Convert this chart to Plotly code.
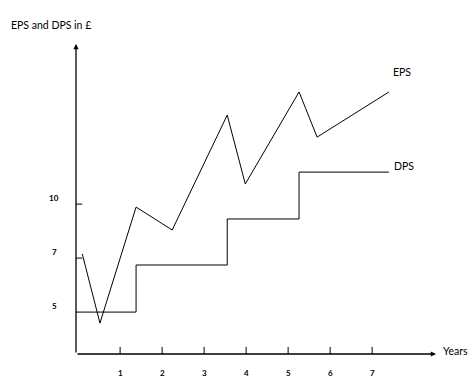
import plotly.graph_objects as go

# Years (schematic x positions) and values on the chart's vertical scale
eps_years = [0.1, 0.52, 1.38, 2.24, 3.55, 3.98, 5.26, 5.69, 7.4]
eps_values = [7.69, 4.49, 9.86, 8.80, 14.12, 10.93, 15.19, 13.10, 15.19]

dps_years = [0.1, 1.38, 1.38, 3.55, 3.55, 5.26, 5.26, 7.4]
dps_values = [5.0, 5.0, 7.18, 7.18, 9.31, 9.31, 11.48, 11.48]

x_ticks = [1, 2, 3, 4, 5, 6, 7]
x_labels = ["1", "2", "3", "4", "5", "6", "7"]
y_ticks = [5, 7.5, 10]
y_labels = ["5", "7", "10"]

X0, X1 = -0.05, 8.52
Y0, Y1 = 3.06, 17.41
FONT = "Lato"

fig = go.Figure()
fig.add_trace(go.Scatter(x=eps_years, y=eps_values, mode="lines",
                         line=dict(color="black", width=1), showlegend=False, hoverinfo="skip"))
fig.add_trace(go.Scatter(x=dps_years, y=dps_values, mode="lines",
                         line=dict(color="black", width=1), showlegend=False, hoverinfo="skip"))

shapes = []
annotations = []
tick_font = dict(family=FONT, size=8, color="black", weight="bold")
for t, lab in zip(x_ticks, x_labels):
    shapes.append(dict(type="line", xref="x", yref="y", x0=t, x1=t, y0=Y0 - 0.36, y1=Y0 + 0.33,
                       line=dict(color="black", width=1)))
    annotations.append(dict(x=t, y=Y0, xref="x", yref="y", text=lab, showarrow=False,
                            yshift=-19, font=tick_font))
for t, lab in zip(y_ticks, y_labels):
    shapes.append(dict(type="line", xref="x", yref="y", x0=X0 - 0.17, x1=X0 + 0.15, y0=t, y1=t,
                       line=dict(color="black", width=1)))
    annotations.append(dict(x=X0, y=t, xref="x", yref="y", text=lab, showarrow=False,
                            xshift=-22, yshift=6.5, font=tick_font))

lab_font = dict(family=FONT, size=10.5, color="black")
annotations += [
    # axes with arrowheads
    dict(x=X0, y=Y1, ax=X0, ay=Y0, xref="x", yref="y", axref="x", ayref="y", text="",
         showarrow=True, arrowhead=2, arrowsize=0.8, arrowwidth=1.3, arrowcolor="black"),
    dict(x=X1, y=Y0, ax=X0, ay=Y0, xref="x", yref="y", axref="x", ayref="y", text="",
         showarrow=True, arrowhead=2, arrowsize=0.8, arrowwidth=1.3, arrowcolor="black"),
    dict(x=X1, y=Y0, xref="x", yref="y", text="Years", showarrow=False, xanchor="left",
         xshift=5, yshift=3, font=lab_font),
    dict(x=eps_years[-1], y=eps_values[-1], xref="x", yref="y", text="EPS", showarrow=False,
         xanchor="left", xshift=2, yshift=20, font=lab_font),
    dict(x=dps_years[-1], y=dps_values[-1], xref="x", yref="y", text="DPS", showarrow=False,
         xanchor="left", xshift=3, yshift=6, font=lab_font),
    dict(x=0, y=1, xref="paper", yref="paper", text="EPS and DPS in £", showarrow=False,
         xanchor="left", xshift=-67, yshift=27, font=lab_font),
]

fig.update_layout(
    width=473, height=378,
    margin=dict(l=76, r=37, t=44, b=24),
    paper_bgcolor="white", plot_bgcolor="white",
    shapes=shapes, annotations=annotations,
    xaxis=dict(range=[X0, X1], showgrid=False, zeroline=False, showline=False,
               showticklabels=False, ticks=""),
    yaxis=dict(range=[Y0, Y1], showgrid=False, zeroline=False, showline=False,
               showticklabels=False, ticks=""),
)

fig.write_html("out.html", config={"displayModeBar": False},
               post_script="document.body.style.margin='0';document.body.style.overflow='hidden';")
